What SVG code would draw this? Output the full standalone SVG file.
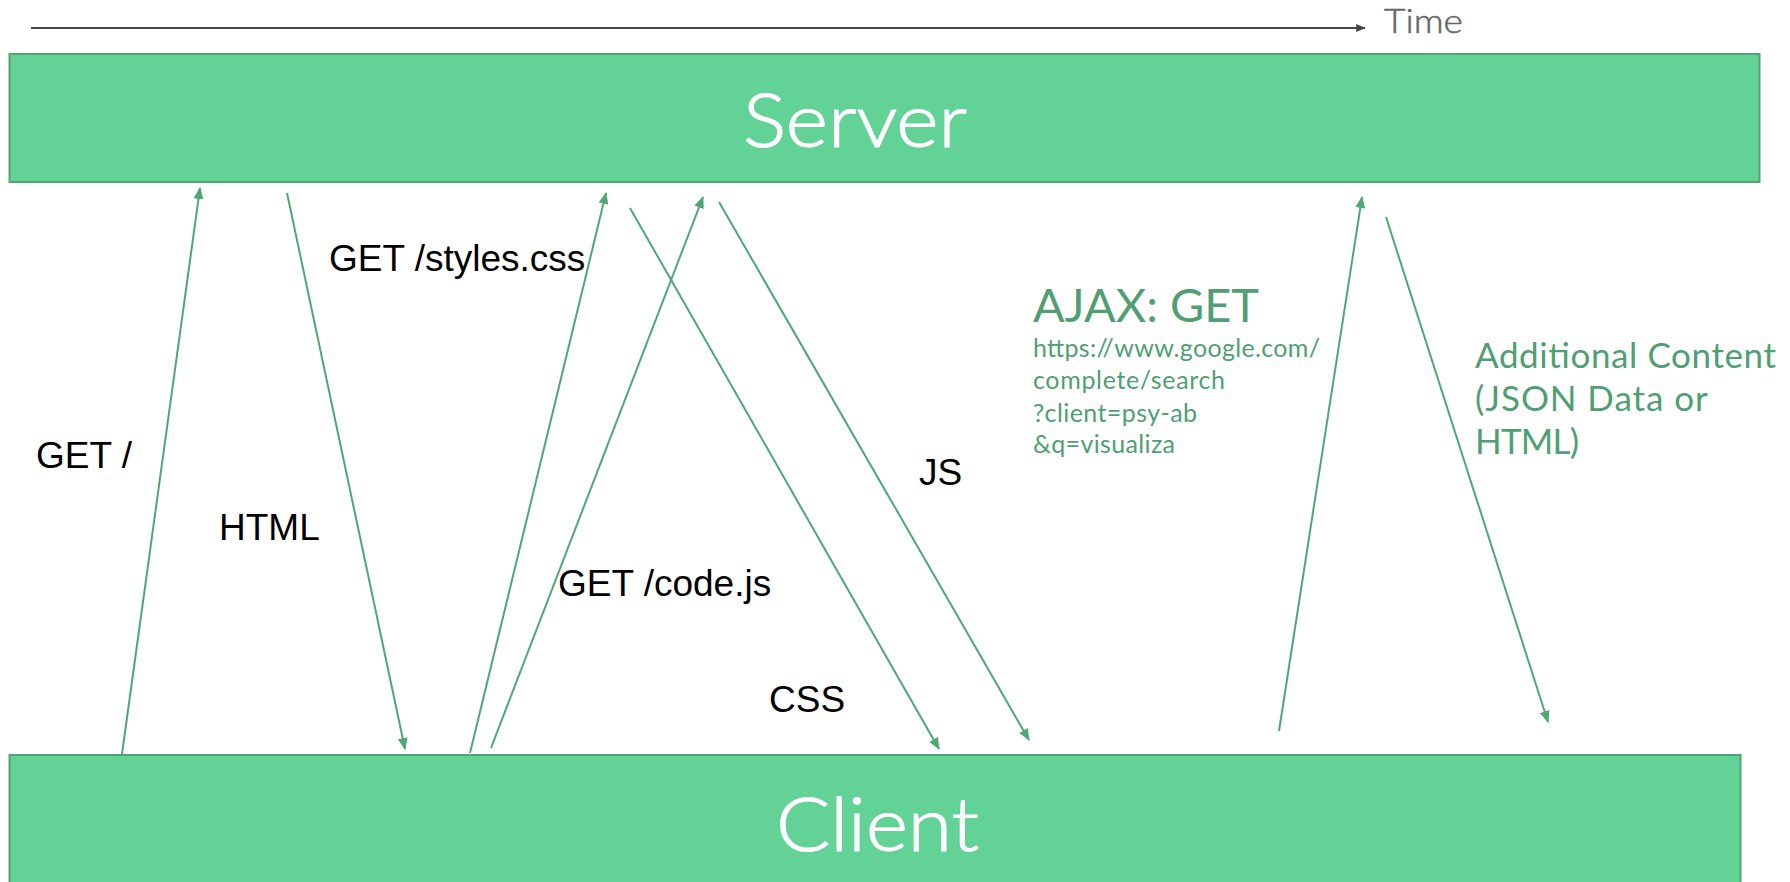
<svg xmlns="http://www.w3.org/2000/svg" width="1790" height="882" viewBox="0 0 1790 882">
<style>
.box{fill:#63d297;stroke:#4fa675;stroke-width:2}
.title{font-family:Lato,"Open Sans",sans-serif;font-weight:300;fill:#ffffff;stroke:#ffffff;stroke-width:1.2;font-size:75px}
.lbl{font-family:"Liberation Sans",Arial,sans-serif;font-size:37px;fill:#000}
.gtxt{font-family:Lato,"Open Sans",sans-serif;font-weight:400;fill:#4f9f73}
.conn{stroke:#4ea775;stroke-width:2;fill:none;marker-end:url(#ah)}
.time{stroke:#444;stroke-width:2;fill:none;marker-end:url(#ahd)}
</style>
<defs>
<marker id="ah" viewBox="0 0 12 10" refX="11" refY="5" markerWidth="6" markerHeight="5" orient="auto" markerUnits="strokeWidth">
<path d="M0,0 L12,5 L0,10 z" fill="#4ea775"/>
</marker>
<marker id="ahd" viewBox="0 0 12 10" refX="11" refY="5" markerWidth="6" markerHeight="4" orient="auto" markerUnits="strokeWidth">
<path d="M0,0 L12,5 L0,10 z" fill="#444"/>
</marker>
</defs>
<rect width="1790" height="882" fill="#fff"/>
<g id="timeline">
<line class="time" x1="31" y1="28" x2="1365" y2="28"/>
<text x="1384" y="33" font-family="Lato,'Open Sans',sans-serif" font-weight="300" font-size="33" fill="#666" stroke="#666" stroke-width="0.5" textLength="79" lengthAdjust="spacingAndGlyphs">Time</text>
</g>
<g id="server">
<rect class="box" x="9.5" y="54" width="1750" height="128"/>
<text class="title" x="743" y="147" textLength="224" lengthAdjust="spacingAndGlyphs">Server</text>
</g>
<g id="client">
<rect class="box" x="9.5" y="755" width="1731" height="140"/>
<text class="title" x="776" y="851" textLength="203" lengthAdjust="spacingAndGlyphs">Client</text>
</g>
<g id="connectors">
<line class="conn" x1="122" y1="754" x2="200" y2="188"/>
<line class="conn" x1="287" y1="193" x2="405" y2="749"/>
<line class="conn" x1="470" y1="753" x2="606" y2="193"/>
<line class="conn" x1="491" y1="748" x2="703" y2="197"/>
<line class="conn" x1="630" y1="208" x2="939" y2="749"/>
<line class="conn" x1="719" y1="202" x2="1029" y2="740"/>
<line class="conn" x1="1279" y1="731" x2="1362" y2="197"/>
<line class="conn" x1="1386" y1="217" x2="1548" y2="722"/>
</g>
<g id="labels">
<text class="lbl" x="36" y="468">GET /</text>
<text class="lbl" x="219" y="540">HTML</text>
<text class="lbl" x="329" y="271">GET /styles.css</text>
<text class="lbl" x="558" y="596">GET /code.js</text>
<text class="lbl" x="769" y="712">CSS</text>
<text class="lbl" x="919" y="485">JS</text>
</g>
<g id="ajax">
<text class="gtxt" x="1033" y="322" font-size="46" textLength="226" lengthAdjust="spacingAndGlyphs">AJAX: GET</text>
<text class="gtxt" font-size="25" lengthAdjust="spacingAndGlyphs">
<tspan x="1033" y="357" textLength="287">https://www.google.com/</tspan>
<tspan x="1033" y="389" textLength="192">complete/search</tspan>
<tspan x="1033" y="422" textLength="164">?client=psy-ab</tspan>
<tspan x="1033" y="453" textLength="142">&amp;q=visualiza</tspan>
</text>
</g>
<g id="additional">
<text class="gtxt" font-size="35" lengthAdjust="spacingAndGlyphs">
<tspan x="1475" y="368" textLength="301">Additional Content</tspan>
<tspan x="1475" y="411" textLength="232">(JSON Data or</tspan>
<tspan x="1475" y="454" textLength="104">HTML)</tspan>
</text>
</g>
</svg>
